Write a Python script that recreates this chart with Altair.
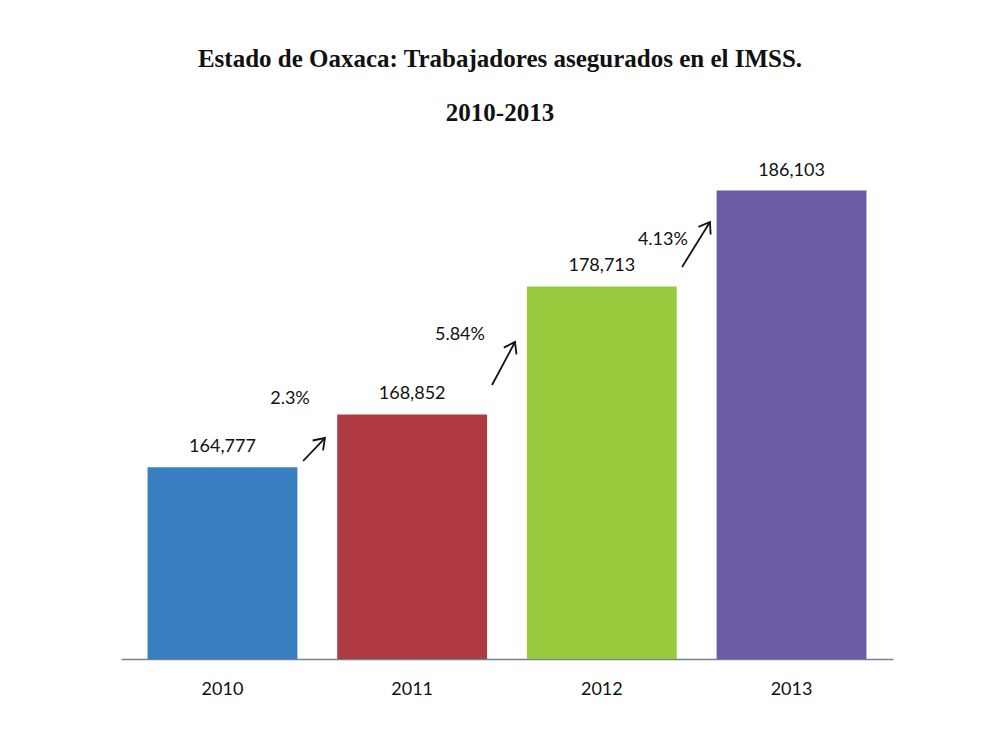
import math
import altair as alt
import pandas as pd

# ---- data ----
years = ["2010", "2011", "2012", "2013"]
workers = [164777, 168852, 178713, 186103]
bar_colors = ["#3A7EC2", "#AF3A44", "#97CB3D", "#6B5CA5"]

# growth annotations (x in category-index units: 0 = 2010 centre ... 3 = 2013 centre)
growth_labels = ["2.3%", "5.84%", "4.13%"]
growth_label_x = [0.356, 1.252, 2.322]
growth_label_y = [170050, 174971, 182292]
arrow_x0 = [0.425, 1.421, 2.423]
arrow_x1 = [0.540, 1.542, 2.570]
arrow_y0 = [165260, 171117, 180211]
arrow_y1 = [167032, 174431, 183680]

y_domain = [150000, 190000]

# ---- layout ----
W, H = 772, 519
pad_inner, pad_outer = 0.21, 0.14
step = W / (len(years) - pad_inner + 2 * pad_outer)
half = pad_outer + (1 - pad_inner) / 2
x_idx_domain = [-half, len(years) - 1 + half]
px_per_val = H / (y_domain[1] - y_domain[0])

bars_df = pd.DataFrame({"year": years, "value": workers})
lab_df = pd.DataFrame({"label": growth_labels, "x": growth_label_x, "y": growth_label_y})
arr_df = pd.DataFrame({"x0": arrow_x0, "x1": arrow_x1, "y0": arrow_y0, "y1": arrow_y1})
arr_df["angle"] = [
    math.degrees(math.atan2((b - a) * step, (d - c) * px_per_val))
    for a, b, c, d in zip(arrow_x0, arrow_x1, arrow_y0, arrow_y1)
]

yscale = alt.Scale(domain=y_domain, zero=False, nice=False)
xq = alt.Scale(domain=x_idx_domain, nice=False, zero=False)
xband = alt.X("year:N", sort=years, title=None,
              scale=alt.Scale(paddingInner=pad_inner, paddingOuter=pad_outer),
              axis=alt.Axis(labelAngle=0, ticks=False, domainColor="#6F8399", domainWidth=1.6,
                            labelFontSize=18, labelFont="Lato", labelColor="#111111",
                            labelPadding=21, grid=False, title=None))

base = alt.Chart(bars_df)
bars = base.mark_bar().encode(
    x=xband,
    y=alt.Y("value:Q", scale=yscale, axis=None),
    y2=alt.datum(y_domain[0]),
    color=alt.Color("year:N", scale=alt.Scale(domain=years, range=bar_colors), legend=None),
)
values_txt = base.mark_text(baseline="bottom", dy=-11, fontSize=18, font="Lato", color="#111111").encode(
    x=xband,
    y=alt.Y("value:Q", scale=yscale, axis=None),
    text=alt.Text("value:Q", format=","),
)
bar_layer = alt.layer(bars, values_txt)

pct = alt.Chart(lab_df).mark_text(fontSize=18, font="Lato", color="#111111").encode(
    x=alt.X("x:Q", scale=xq, axis=None),
    y=alt.Y("y:Q", scale=yscale, axis=None),
    text="label:N",
)
shafts = alt.Chart(arr_df).mark_rule(color="#111111", strokeWidth=1.8).encode(
    x=alt.X("x0:Q", scale=xq, axis=None), x2="x1:Q",
    y=alt.Y("y0:Q", scale=yscale, axis=None), y2="y1:Q",
)
heads = alt.Chart(arr_df).mark_point(
    shape="M -0.7 1 L 0 0 L 0.7 1", size=420, filled=False, color="#111111",
    strokeWidth=1.8, opacity=1,
).encode(
    x=alt.X("x1:Q", scale=xq, axis=None),
    y=alt.Y("y1:Q", scale=yscale, axis=None),
    angle=alt.Angle("angle:Q", scale=None),
)
annot = alt.layer(pct, shafts, heads)

chart = alt.layer(bar_layer, annot).resolve_scale(x="independent").properties(
    width=W, height=H,
    background="white",
    title=alt.TitleParams(
        ["Estado de Oaxaca: Trabajadores asegurados en el IMSS.", "2010-2013"],
        font="Liberation Serif", fontSize=25, fontWeight="bold", color="#111111",
        lineHeight=54, anchor="middle", offset=14, dx=-7,
    ),
    autosize=alt.AutoSizeParams(type="none"),
    padding={"left": 113, "top": 132, "right": 80, "bottom": 60},
).configure_view(stroke="transparent", strokeWidth=0)

chart.save("out.html", embed_options={"renderer": "svg", "actions": False})
